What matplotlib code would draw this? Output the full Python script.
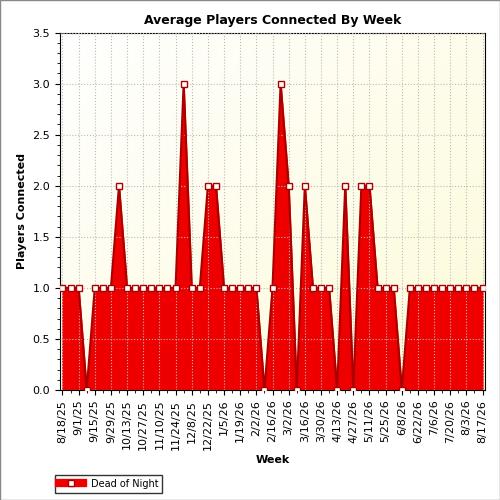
import numpy as np
import matplotlib.pyplot as plt
import datetime as dt

start = dt.date(2025, 8, 18)
weeks = [start + dt.timedelta(weeks=i) for i in range(53)]
labels = [f"{d.month}/{d.day}/{d.year % 100}" for d in weeks]
players = [1, 1, 1, 0, 1, 1, 1, 2, 1, 1, 1, 1, 1, 1, 1, 3, 1, 1, 2, 2,
           1, 1, 1, 1, 1, 0, 1, 3, 2, 0, 2, 1, 1, 1, 0, 2, 0, 2, 2, 1,
           1, 1, 0, 1, 1, 1, 1, 1, 1, 1, 1, 1, 1]

fig = plt.figure(figsize=(5, 5), dpi=100)
ax = fig.add_axes([0.12, 0.22, 0.85, 0.715])
x = np.arange(len(players))

# gradient background
grad = np.linspace(0, 1, 256).reshape(1, -1)
grad = (grad + grad.T[::-1]) / 2
ax.imshow(grad, extent=[-0.3, len(x) - 0.7, 0, 3.5], aspect='auto',
          cmap=plt.matplotlib.colors.LinearSegmentedColormap.from_list('bg', ['#ffffff', '#fdfbd8']),
          zorder=0, origin='lower')

ax.fill_between(x, players, color='#ee0000', zorder=2)
ax.plot(x, players, color='#aa0000', lw=1.5, zorder=3)
ax.plot(x, players, 's', ms=5, mfc='white', mec='#aa0000', mew=1, zorder=4)

ax.set_xlim(-0.3, len(x) - 0.7)
ax.set_ylim(0, 3.5)
ax.set_xticks(x[::2])
ax.set_xticklabels(labels[::2], rotation=90, fontsize=8)
ax.set_xticks(x, minor=True)
ax.set_yticks(np.arange(0, 3.6, 0.5))
ax.set_yticklabels([f"{v:.1f}" for v in np.arange(0, 3.6, 0.5)], fontsize=8)
ax.set_yticks(np.arange(0, 3.55, 0.1), minor=True)
ax.grid(True, which='major', color='#bbbbbb', linestyle=':', lw=0.8)
ax.set_axisbelow(False)
ax.set_title("Average Players Connected By Week", fontsize=9, fontweight='bold')
ax.set_xlabel("Week", fontsize=8, fontweight='bold')
ax.set_ylabel("Players Connected", fontsize=8, fontweight='bold')

from matplotlib.lines import Line2D
h = Line2D([], [], color='#ee0000', lw=6, marker='s', mfc='white', mec='#aa0000', ms=5)
fig.legend([h], ["Dead of Night"], loc='lower left', bbox_to_anchor=(0.1, 0.005),
           fontsize=7, frameon=True, edgecolor='black', fancybox=False, handlelength=2.5)

fig.patches.append(plt.Rectangle((0, 0), 1, 1, transform=fig.transFigure, fill=False,
                                 edgecolor='#888888', lw=1))
fig.savefig("out.png")
